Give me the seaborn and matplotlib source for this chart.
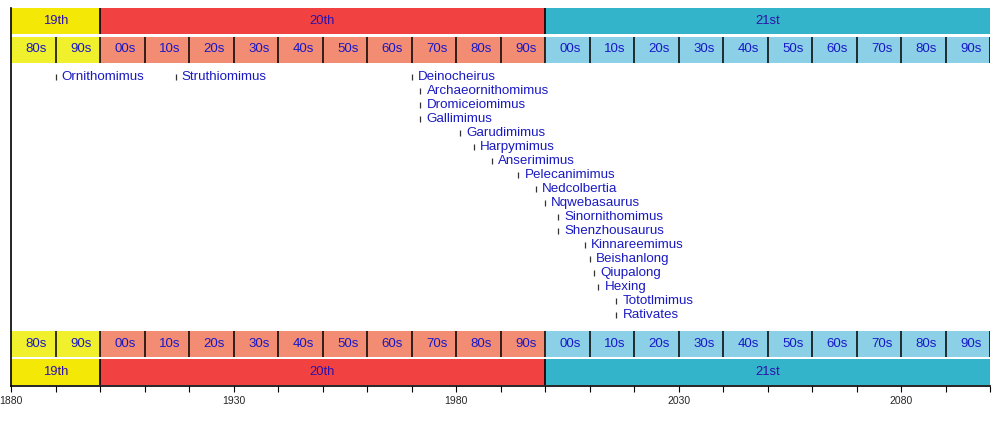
import matplotlib
matplotlib.use('Agg')
import matplotlib.pyplot as plt
import seaborn as sns
import pandas as pd

# ---- data ----
centuries = ['19th', '20th', '21st']
century_start = [1880, 1900, 2000]
century_end = [1900, 2000, 2100]
century_colors = ['#F3E806', '#F24141', '#34B4CA']
decade_colors_by_century = ['#F0F02C', '#F28C72', '#8CD0E7']

decade_labels = ['80s', '90s', '00s', '10s', '20s', '30s', '40s', '50s', '60s', '70s', '80s', '90s',
                 '00s', '10s', '20s', '30s', '40s', '50s', '60s', '70s', '80s', '90s']
decade_start = [1880, 1890, 1900, 1910, 1920, 1930, 1940, 1950, 1960, 1970, 1980, 1990,
                2000, 2010, 2020, 2030, 2040, 2050, 2060, 2070, 2080, 2090]
decade_century = [0, 0, 1, 1, 1, 1, 1, 1, 1, 1, 1, 1, 2, 2, 2, 2, 2, 2, 2, 2, 2, 2]

taxa = ['Ornithomimus', 'Struthiomimus', 'Deinocheirus', 'Archaeornithomimus', 'Dromiceiomimus',
        'Gallimimus', 'Garudimimus', 'Harpymimus', 'Anserimimus', 'Pelecanimimus', 'Nedcolbertia',
        'Nqwebasaurus', 'Sinornithomimus', 'Shenzhousaurus', 'Kinnareemimus', 'Beishanlong',
        'Qiupalong', 'Hexing', 'Tototlmimus', 'Rativates']
years = [1890, 1917, 1970, 1972, 1972, 1972, 1981, 1984, 1988, 1994, 1998,
         2000, 2003, 2003, 2009, 2010, 2011, 2012, 2016, 2016]
# row index for each taxon (first three share the top row)
rows = [0, 0, 0, 1, 2, 3, 4, 5, 6, 7, 8, 9, 10, 11, 12, 13, 14, 15, 16, 17]

major_ticks = [1880, 1930, 1980, 2030, 2080]
minor_ticks = [1890, 1900, 1910, 1920, 1940, 1950, 1960, 1970, 1990, 2000, 2010, 2020,
               2040, 2050, 2060, 2070, 2090, 2100]

# ---- style ----
sns.set_style('white')
plt.rcParams['font.family'] = ['Liberation Sans', 'DejaVu Sans']

W, H = 1000, 433
fig = plt.figure(figsize=(W / 100, H / 100), dpi=100)
top_px, bot_px, left_px, right_px = 8, 386, 11, 990
ax = fig.add_axes([left_px / W, (H - bot_px) / H, (right_px - left_px) / W, (bot_px - top_px) / H])
ax.set_xlim(1880, 2100)
ax.set_ylim(bot_px, top_px)

century_text = '#2C12A8'
decade_text = '#1818C8'
name_text = '#1A1AC2'

band_h = 26
bands = {'top_century': 21, 'top_decade': 49.5, 'bot_decade': 344, 'bot_century': 372}

for key in ['top_century', 'bot_century']:
    yc = bands[key]
    for name, s, e, c in zip(centuries, century_start, century_end, century_colors):
        ax.barh(yc, e - s, left=s, height=band_h, color=c, linewidth=0)
        ax.text((s + e) / 2, yc, name, ha='center', va='center', fontsize=9.4, color=century_text)
    ax.vlines(century_start[1:], yc - band_h / 2, yc + band_h / 2, color='black', linewidth=1.2)

for key in ['top_decade', 'bot_decade']:
    yc = bands[key]
    for lab, s, ci in zip(decade_labels, decade_start, decade_century):
        ax.barh(yc, 10, left=s, height=band_h, color=decade_colors_by_century[ci], linewidth=0)
        ax.text(s + 5.7, yc, lab, ha='center', va='center', fontsize=9.5, color=decade_text)
    ax.vlines(decade_start[1:] + [2100], yc - band_h / 2, yc + band_h / 2, color='black', linewidth=1.1)

# taxa
row_y = [77 + r * 14 for r in rows]
df = pd.DataFrame({'year': years, 'y': row_y, 'taxon': taxa})
sns.scatterplot(data=df, x='year', y='y', marker='|', s=22, color='#333333', linewidth=0.9,
                ax=ax, legend=False, zorder=3)
for t, x, y in zip(taxa, years, row_y):
    ax.annotate(t, (x, y), xytext=(4.5, 0), textcoords='offset points', ha='left', va='center',
                fontsize=9.6, color=name_text)

# axes
for sp in ['top', 'right']:
    ax.spines[sp].set_visible(False)
for sp in ['left', 'bottom']:
    ax.spines[sp].set_color('black')
    ax.spines[sp].set_linewidth(1.2)
ax.set_yticks([])
ax.set_xticks(major_ticks)
ax.set_xticklabels([str(t) for t in major_ticks])
ax.set_xticks(minor_ticks, minor=True)
ax.tick_params(axis='x', which='both', direction='out', length=4, width=0.8, color='black',
               labelsize=7.5, pad=3, bottom=True)
ax.set_xlabel('')
ax.set_ylabel('')

fig.savefig('out.png', dpi=100)
